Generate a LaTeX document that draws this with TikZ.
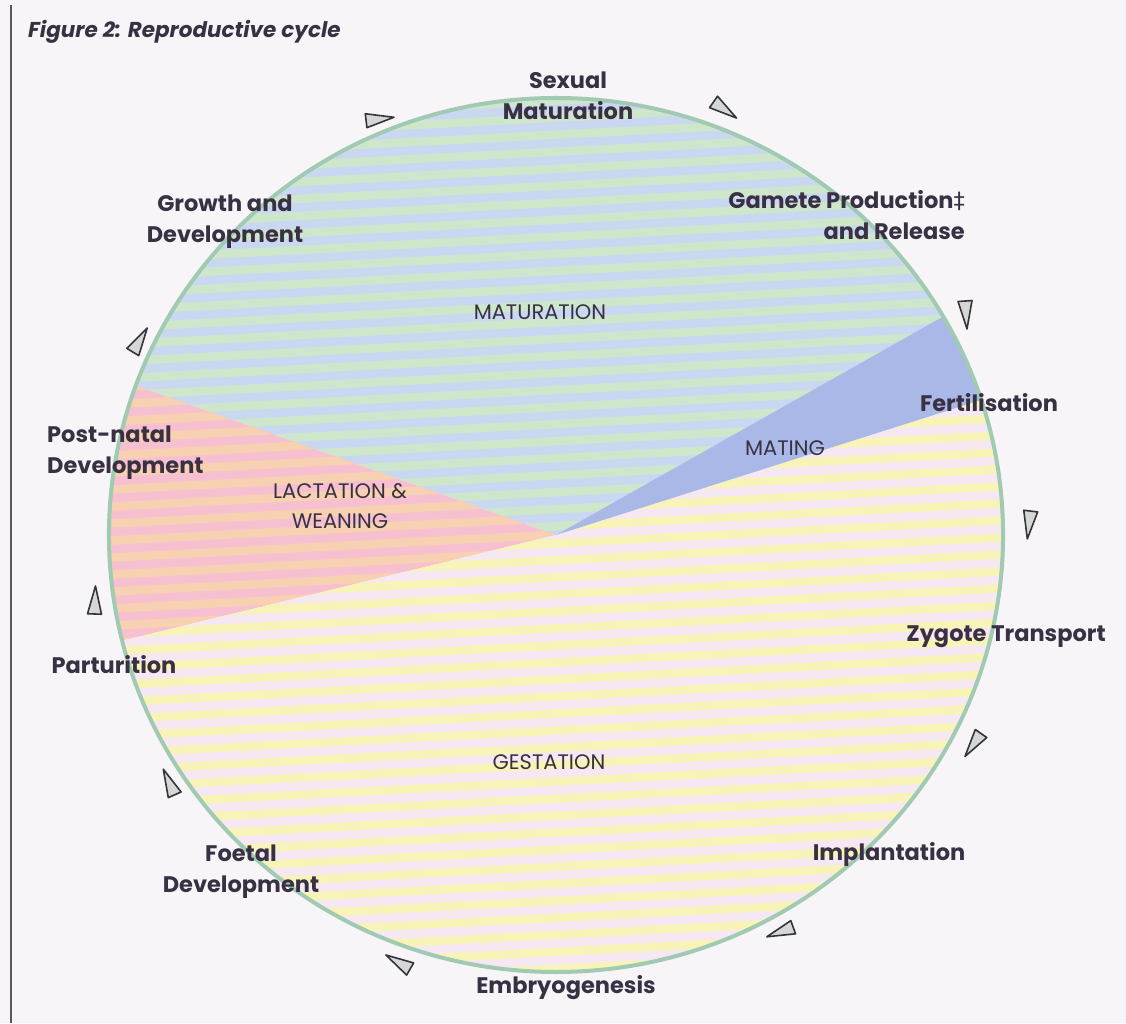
\documentclass[tikz,border=0pt]{standalone}
\usepackage{fontspec}
\setmainfont{Poppins}
\newfontfamily\djv{DejaVu Sans}
\definecolor{bgc}{RGB}{247,245,247}
\definecolor{labelc}{RGB}{58,48,68}
\definecolor{innerc}{RGB}{55,50,65}
\definecolor{matA}{RGB}{206,231,203}
\definecolor{matB}{RGB}{202,215,241}
\definecolor{lacA}{RGB}{246,192,208}
\definecolor{lacB}{RGB}{248,208,178}
\definecolor{gesA}{RGB}{248,244,184}
\definecolor{gesB}{RGB}{246,232,243}
\definecolor{matingc}{RGB}{170,184,232}
\definecolor{rimc}{RGB}{160,202,178}
\definecolor{markfill}{RGB}{212,216,212}
\definecolor{markline}{RGB}{55,50,60}
\newcommand\sectorpath[2]{(0,0) -- (#1:437) arc[start angle=#1, end angle=#2, radius=437] -- cycle}
\newcommand\stripes[2]{%
  \fill[#1] (-480,-480) rectangle (480,480);
  \foreach \k in {0,...,56} \fill[#2, rotate=3] (-540,-480+\k*17) rectangle (540,-480+\k*17+8.5);}
\begin{document}
\begin{tikzpicture}[x=1pt,y=1pt,
  lbl/.style={font=\bfseries\fontsize{22.5}{31}\selectfont, text=labelc, align=center, inner sep=0pt},
  inlbl/.style={font=\fontsize{21}{30}\selectfont, text=innerc, align=center, inner sep=0pt},
  marker/.style={fill=markfill, draw=markline, line width=1.6pt, line join=round},
  pics/tri/.style={code={\draw[marker] (14,0) -- (-14,7) -- (-14,-7) -- cycle;}}]
\useasboundingbox (0,0) rectangle (1126,1023);
\fill[bgc] (0,0) rectangle (1126,1023);
\draw[gray!70!black, line width=1.5pt] (11,1018) -- (11,0);
\node[font=\bfseries\itshape\fontsize{21.5}{24}\selectfont, text=labelc, anchor=west, inner sep=0pt] (title) at (28,991) {Figure 2: Reproductive cycle};
% pie
\coordinate (c) at (556,488);
\begin{scope}[shift={(556,488)}, xscale=1.023]
  \begin{scope}
    \clip \sectorpath{30}{160};
    \stripes{matA}{matB}
  \end{scope}
  \begin{scope}
    \clip \sectorpath{160}{194};
    \stripes{lacA}{lacB}
  \end{scope}
  \begin{scope}
    \clip \sectorpath{194}{378};
    \stripes{gesA}{gesB}
  \end{scope}
  \fill[matingc] \sectorpath{18}{30};
  \draw[rimc, line width=4pt] (0,0) circle[radius=437];
\end{scope}
% inner labels
\node[inlbl] (maturation) at (540,711) {MATURATION};
\node[inlbl] (mating) at (785,575) {MATING};
\node[inlbl] (lactation) at (340,517) {LACTATION \&\\WEANING};
\node[inlbl] (gestation) at (549,261) {GESTATION};
% outer labels
\node[lbl] (sexmat) at (568,927) {Sexual\\Maturation};
\node[lbl, anchor=east, align=right] (gamete) at (965,807.5) {Gamete Production{\djv\mdseries ‡}\\and Release};
\node[lbl] (growth) at (225,801) {Growth and\\Development};
\node[lbl] (fert) at (989,620) {Fertilisation};
\node[lbl, anchor=west, align=left] (postnatal) at (47,570) {Post-natal\\Development};
\node[lbl] (zygote) at (1006,386) {Zygote Transport};
\node[lbl] (partur) at (114,358) {Parturition};
\node[lbl] (implant) at (889,169) {Implantation};
\node[lbl] (foetal) at (241,151) {Foetal\\Development};
\node[lbl] (embryo) at (566,35) {Embryogenesis};
% cycle markers
\pic[rotate=7] at (380,904) {tri};
\pic[rotate=-35] at (725,913) {tri};
\pic[rotate=-86] at (966,708) {tri};
\pic[rotate=-97] at (1029,498) {tri};
\pic[rotate=-125] at (973,278) {tri};
\pic[rotate=-160] at (780,91) {tri};
\pic[rotate=150] at (398,61) {tri};
\pic[rotate=114] at (169,241) {tri};
\pic[rotate=88] at (95,423) {tri};
\pic[rotate=59] at (140,683) {tri};
\end{tikzpicture}
\end{document}
